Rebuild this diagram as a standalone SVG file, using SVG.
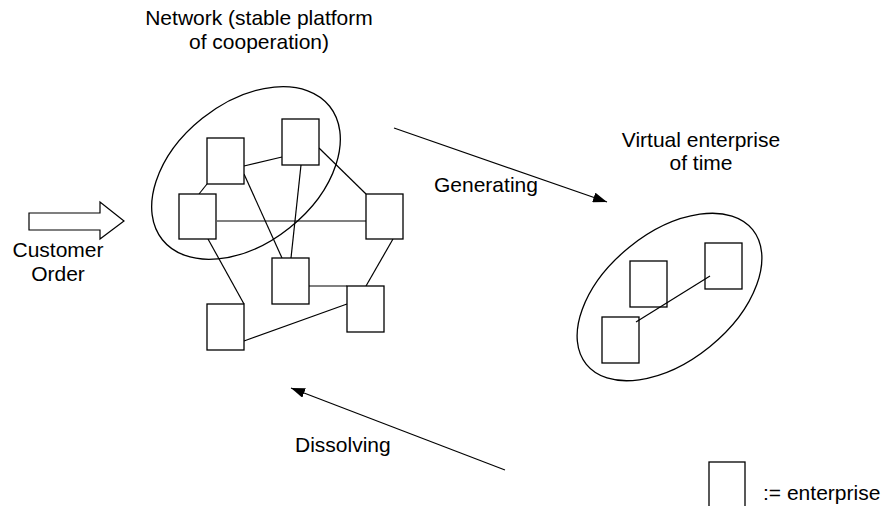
<svg xmlns="http://www.w3.org/2000/svg" width="883" height="506" viewBox="0 0 883 506">
<style>
  .box { fill: #fff; stroke: #000; stroke-width: 1.3; }
  .vbox { fill: none; stroke: #000; stroke-width: 1.3; }
  .ell { fill: none; stroke: #000; stroke-width: 1.3; }
  .ln { stroke: #000; stroke-width: 1.2; fill: none; }
  .lbl { font-family: "Liberation Sans", Arial, sans-serif; font-size: 21px; fill: #000; }
</style>
<defs>
  <marker id="ah" viewBox="0 0 14 10" refX="14" refY="5" markerWidth="14" markerHeight="10" markerUnits="userSpaceOnUse" orient="auto">
    <path d="M0,0 L14,5 L0,10 Z" fill="#000"/>
  </marker>
</defs>
<rect width="883" height="506" fill="#fff"/>

<g id="titles">
  <text class="lbl" x="259" y="25" text-anchor="middle">Network (stable platform</text>
  <text class="lbl" x="259" y="49" text-anchor="middle">of cooperation)</text>
  <text class="lbl" x="701" y="147" text-anchor="middle">Virtual enterprise</text>
  <text class="lbl" x="701" y="170" text-anchor="middle">of time</text>
</g>

<g id="customer-order">
  <polygon points="29,213 100,213 100,202 124,221 100,239 100,230 29,230" fill="#fff" stroke="#000" stroke-width="1.2"/>
  <text class="lbl" x="58" y="257" text-anchor="middle">Customer</text>
  <text class="lbl" x="58" y="281" text-anchor="middle">Order</text>
</g>

<g id="network-ellipse">
  <ellipse class="ell" cx="246" cy="173" rx="107" ry="70" transform="rotate(-38.6 246 173)"/>
</g>
<g id="virtual-ellipse">
  <ellipse class="ell" cx="669.5" cy="297" rx="107" ry="64" transform="rotate(-39 669.5 297)"/>
</g>

<g id="connectors">
  <line class="ln" x1="244" y1="166" x2="282" y2="157"/>
  <line class="ln" x1="207" y1="184" x2="199" y2="194"/>
  <line class="ln" x1="319" y1="148" x2="366" y2="194"/>
  <line class="ln" x1="217" y1="221" x2="366" y2="221"/>
  <line class="ln" x1="244" y1="174" x2="282" y2="258"/>
  <line class="ln" x1="301" y1="165" x2="291" y2="258"/>
  <line class="ln" x1="208" y1="239" x2="244" y2="304"/>
  <line class="ln" x1="393" y1="239" x2="366" y2="286"/>
  <line class="ln" x1="309" y1="286" x2="347" y2="286"/>
  <line class="ln" x1="244" y1="341" x2="347" y2="304"/>
  <line class="ln" x1="636" y1="322" x2="710" y2="276"/>
  <line class="ln" x1="394" y1="128" x2="607" y2="202" marker-end="url(#ah)"/>
  <line class="ln" x1="505" y1="470" x2="291" y2="388" marker-end="url(#ah)"/>
</g>

<g id="n-a"><rect class="box" x="207" y="138" width="37" height="46"/></g>
<g id="n-b"><rect class="box" x="282" y="119" width="37" height="46"/></g>
<g id="n-c"><rect class="box" x="179" y="194" width="37" height="45"/></g>
<g id="n-d"><rect class="box" x="366" y="194" width="37" height="45"/></g>
<g id="n-e"><rect class="box" x="272" y="258" width="37" height="46"/></g>
<g id="n-f"><rect class="box" x="347" y="286" width="37" height="46"/></g>
<g id="n-g"><rect class="box" x="207" y="304" width="37" height="46"/></g>

<g id="v-1"><rect class="vbox" x="630" y="261" width="37" height="46"/></g>
<g id="v-2"><rect class="vbox" x="705" y="243" width="37" height="46"/></g>
<g id="v-3"><rect class="vbox" x="602" y="317" width="37" height="46"/></g>

<g id="labels">
  <text class="lbl" x="434" y="192">Generating</text>
  <text class="lbl" x="295" y="452">Dissolving</text>
</g>

<g id="legend">
  <rect class="box" x="709" y="462" width="36" height="50"/>
  <text class="lbl" x="763" y="500">:= enterprise</text>
</g>
</svg>
